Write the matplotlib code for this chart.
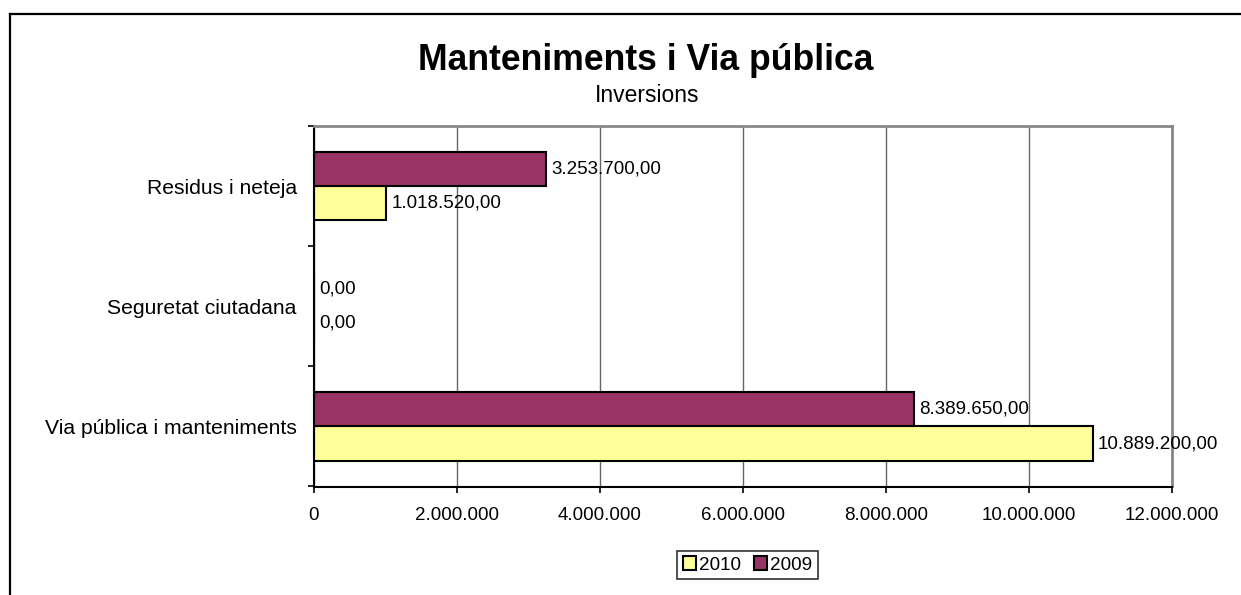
import matplotlib
matplotlib.use("Agg")
import matplotlib.pyplot as plt
from matplotlib.lines import Line2D
import numpy as np

# chart data
categories = ["Via pública i manteniments", "Seguretat ciutadana", "Residus i neteja"]
series_names = ["2010", "2009"]
values_2010 = [10889200.00, 0.00, 1018520.00]
values_2009 = [8389650.00, 0.00, 3253700.00]
x_ticks = [0, 2000000, 4000000, 6000000, 8000000, 10000000, 12000000]

plt.rcParams['font.family'] = ['Liberation Sans', 'DejaVu Sans']


def ca_format(v, decimals=2):
    '''Catalan number format: 1.234.567,89'''
    s = f"{v:,.{decimals}f}"
    return s.replace(",", "X").replace(".", ",").replace("X", ".")


def main():
    fig = plt.figure(figsize=(12.41, 5.95), dpi=100)
    W, H = 1241, 595
    ax = fig.add_axes([313.5 / W, 1 - 486.5 / H, (1172 - 313.5) / W, (486.5 - 126) / H])

    y = np.arange(len(categories))
    bar_h = 1 / 3.5  # Excel gap width 150%
    b10 = ax.barh(y - bar_h / 2, values_2010, height=bar_h, color="#FFFF99",
                  edgecolor="black", linewidth=1.5, label=series_names[0])
    b09 = ax.barh(y + bar_h / 2, values_2009, height=bar_h, color="#993366",
                  edgecolor="black", linewidth=1.5, label=series_names[1])

    for bars, vals in ((b10, values_2010), (b09, values_2009)):
        ax.bar_label(bars, labels=[ca_format(v) for v in vals], padding=4,
                     fontsize=13.5)

    ax.set_xlim(0, 12000000)
    ax.set_ylim(-0.5, len(categories) - 0.5)
    ax.set_xticks(x_ticks)
    ax.set_xticklabels([ca_format(v, 0) for v in x_ticks], fontsize=13.5)
    ax.set_yticks(y)
    ax.set_yticklabels(categories, fontsize=15.2)
    ax.set_yticks(np.arange(len(categories) + 1) - 0.5, minor=True)
    ax.tick_params(axis="y", which="major", length=0, pad=12)
    ax.tick_params(axis="y", which="minor", length=4.5, width=1.2, direction="out")
    ax.tick_params(axis="x", length=4, width=1.2, pad=10.5)

    ax.grid(axis="x", color="#666666", linewidth=1)
    ax.set_axisbelow(True)
    for side in ("left", "bottom"):
        ax.spines[side].set_color("black")
        ax.spines[side].set_linewidth(1.5)
    for side in ("top", "right"):
        ax.spines[side].set_color("#888888")
        ax.spines[side].set_linewidth(2)

    fig.text(646 / W, 1 - 60 / H, "Manteniments i Via pública", fontsize=25.6,
             fontweight="bold", ha="center", va="center")
    fig.text(647 / W, 1 - 96 / H, "Inversions", fontsize=16.5,
             ha="center", va="center")

    leg = fig.legend(handles=[b10, b09], loc="center", ncol=2,
                     bbox_to_anchor=(747.5 / W, 1 - 565 / H), fontsize=13.6,
                     frameon=True, fancybox=False, edgecolor="black",
                     handlelength=0.7, handleheight=0.7, handletextpad=0.15,
                     columnspacing=0.7, borderpad=0.3, borderaxespad=0)
    leg.get_frame().set_linewidth(1.2)

    # outer chart border (cropped at right and bottom)
    fig.add_artist(Line2D([10 / W, 10 / W], [0, 1 - 14 / H], color="black",
                          linewidth=1.6, transform=fig.transFigure))
    fig.add_artist(Line2D([10 / W, 1], [1 - 14 / H, 1 - 14 / H], color="black",
                          linewidth=1.6, transform=fig.transFigure))

    fig.savefig("out.png", dpi=100)


if __name__ == "__main__":
    main()
